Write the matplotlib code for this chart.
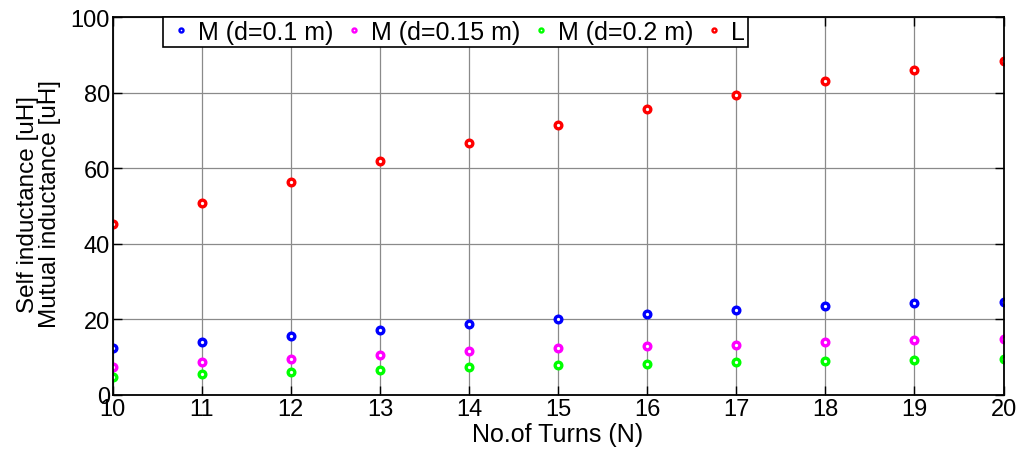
import matplotlib
matplotlib.use("Agg")
import matplotlib.pyplot as plt
import numpy as np

plt.rcParams['font.family'] = ['Liberation Sans', 'DejaVu Sans']

# number of turns
turns = [10, 11, 12, 13, 14, 15, 16, 17, 18, 19, 20]

# inductances in uH
m_d010 = [12.3, 13.9, 15.6, 17.2, 18.9, 20.2, 21.4, 22.6, 23.5, 24.3, 24.7]
m_d015 = [7.5, 8.7, 9.5, 10.5, 11.5, 12.3, 12.9, 13.3, 14.1, 14.6, 14.8]
m_d020 = [4.8, 5.5, 6.2, 6.7, 7.3, 7.8, 8.2, 8.6, 8.9, 9.3, 9.4]
self_l = [45.2, 50.8, 56.3, 61.9, 66.7, 71.5, 75.7, 79.5, 83.0, 86.0, 88.5]

series = [
    (m_d010, 'M (d=0.1 m)', '#0000ff'),
    (m_d015, 'M (d=0.15 m)', '#ff00ff'),
    (m_d020, 'M (d=0.2 m)', '#00ff00'),
    (self_l, 'L', '#ff0000'),
]

fig = plt.figure(figsize=(10.24, 4.52), dpi=100)
ax = fig.add_axes([0.110, 0.124, 0.870, 0.836])

for vals, label, col in series:
    ax.plot(turns, vals, linestyle='none', marker='o', markersize=4.8,
            markerfacecolor='white', markeredgecolor=col, markeredgewidth=2.4,
            label=label)

ax.set_xlim(10, 20)
ax.set_ylim(0, 100)
ax.set_xticks(turns)
ax.set_yticks([0, 20, 40, 60, 80, 100])
ax.grid(True, color='#8a8a8a', linewidth=0.9)
ax.set_axisbelow(True)
ax.tick_params(direction='in', length=6.5, width=1, labelsize=17,
               top=True, right=True, pad=2)
for s in ax.spines.values():
    s.set_linewidth(1.3)

ax.set_xlabel('No.of Turns (N)', fontsize=18, va='top')
ax.xaxis.set_label_coords(0.499, -0.072)
ax.set_ylabel('Self inductance [uH]\nMutual inductance [uH]', fontsize=17.5,
              linespacing=1.0)
ax.yaxis.set_label_coords(-0.058, 0.507)

leg = fig.legend(loc='upper left', bbox_to_anchor=(163 / 1024, 1 - 18 / 452),
                 ncol=4, fontsize=18, frameon=True, fancybox=False,
                 edgecolor='black', framealpha=1, borderpad=0.12,
                 handlelength=1.2, handletextpad=0.1, columnspacing=0.2,
                 borderaxespad=0, markerscale=0.6)
leg.get_frame().set_linewidth(1.2)
for h in leg.legend_handles:
    h.set_markeredgewidth(1.7)

fig.savefig('out.png', dpi=100)
